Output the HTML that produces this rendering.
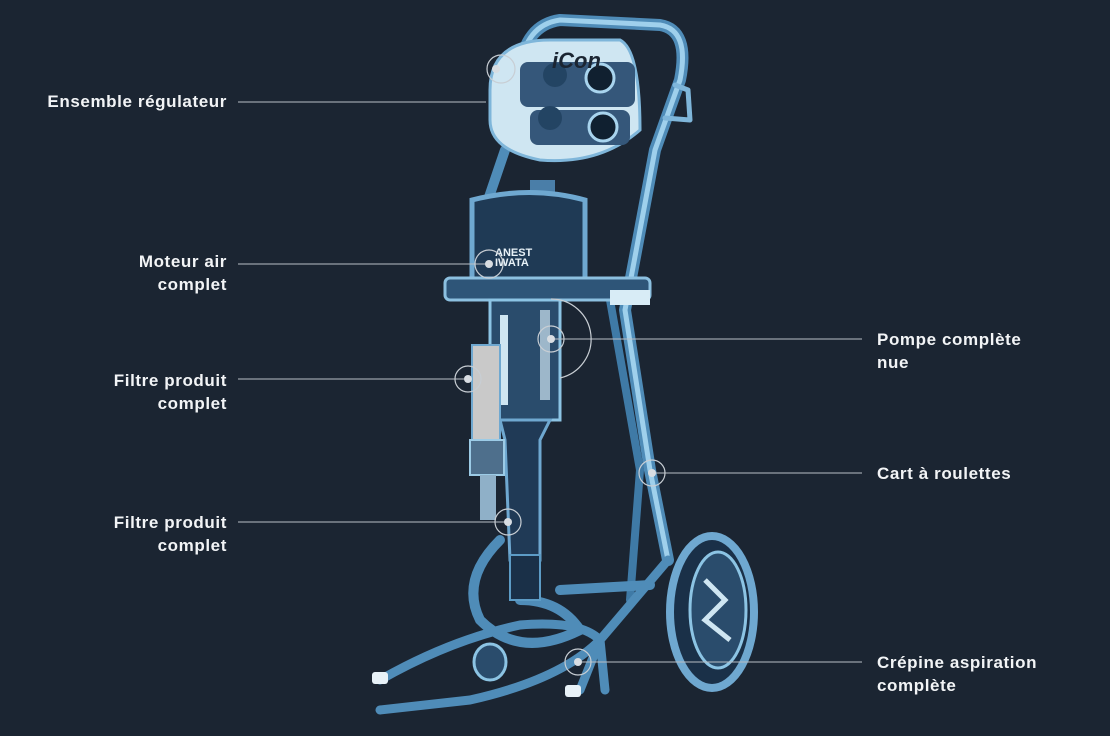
<!DOCTYPE html>
<html><head><meta charset="utf-8"><style>
html,body{margin:0;padding:0;background:#1b2532;}
.w{position:relative;width:1110px;height:736px;overflow:hidden;background:#1b2532;font-family:"Liberation Sans",sans-serif;}
.l{position:absolute;color:#f2f4f6;font-weight:bold;font-size:17px;line-height:23px;letter-spacing:0.6px;}
.r{text-align:right;}
svg{position:absolute;left:0;top:0;}
</style></head><body><div class="w">
<svg width="1110" height="736" viewBox="0 0 1110 736">
<g fill="none" stroke="#5d9cc6" stroke-linecap="round" stroke-linejoin="round">
<path d="M520 70 Q525 25 560 20 L660 25 Q690 30 680 80 L655 150 L640 230 L625 310 L650 470 L668 560" stroke-width="12" stroke="#4f8cb8"/>
<path d="M520 70 Q525 25 560 20 L660 25 Q690 30 680 80 L655 150 L640 230 L625 310 L650 470 L668 560" stroke-width="5" stroke="#9fd0ec"/>
<path d="M505 150 L488 200" stroke-width="10" stroke="#4f8cb8"/>
<path d="M675 85 L688 90 L690 120 L665 118" stroke-width="5" stroke="#7fb6da"/>
<path d="M610 300 L640 470 L630 600" stroke-width="8" stroke="#3f7aa6"/>
<path d="M560 590 L650 585" stroke-width="10" stroke="#4f8cb8"/>
<path d="M500 540 Q460 580 480 620 Q520 660 580 630 Q560 600 520 600" stroke-width="10" stroke="#4f8cb8"/>
<path d="M380 680 Q450 640 520 625 Q580 620 600 640 Q560 680 470 700 L380 710" stroke-width="9" stroke="#4f8cb8"/>
<path d="M600 640 L580 690" stroke-width="9" stroke="#4f8cb8"/>
<path d="M668 560 L600 640 L605 690" stroke-width="9" stroke="#4f8cb8"/>
</g>
<path d="M490 90 Q490 40 550 40 L620 40 Q640 50 640 130 Q600 165 540 160 Q490 150 490 120 Z" fill="#cfe6f2" stroke="#7fb6da" stroke-width="3"/>
<rect x="520" y="62" width="115" height="45" rx="8" fill="#35577a"/>
<rect x="530" y="110" width="100" height="35" rx="8" fill="#35577a"/>
<circle cx="600" cy="78" r="14" fill="#102030" stroke="#a8d4ee" stroke-width="3"/>
<circle cx="603" cy="127" r="14" fill="#102030" stroke="#a8d4ee" stroke-width="3"/>
<circle cx="555" cy="75" r="12" fill="#234463"/>
<circle cx="550" cy="118" r="12" fill="#234463"/>
<text x="552" y="68" font-family="Liberation Sans,sans-serif" font-weight="bold" font-style="italic" font-size="22" fill="#1b2532">iCon</text>
<rect x="530" y="180" width="25" height="15" fill="#4a7ea8"/>
<path d="M472 200 Q530 185 585 200 L585 285 Q530 300 472 285 Z" fill="#1f3a55" stroke="#6fa8d0" stroke-width="5"/>
<rect x="445" y="278" width="205" height="22" rx="5" fill="#2e5578" stroke="#8cc0e0" stroke-width="3"/>
<path d="M610 290 L650 290 L650 305 L610 305 Z" fill="#d8ecf6"/>
<text x="495" y="256" font-family="Liberation Sans,sans-serif" font-weight="bold" font-size="11" fill="#e8f2f8">ANEST</text>
<text x="495" y="266" font-family="Liberation Sans,sans-serif" font-weight="bold" font-size="11" fill="#e8f2f8">IWATA</text>
<rect x="490" y="300" width="70" height="120" fill="#2a4c6c" stroke="#8cc4e4" stroke-width="3"/>
<rect x="500" y="315" width="8" height="90" fill="#cfe6f2"/>
<rect x="540" y="310" width="10" height="90" fill="#cfe6f2" opacity=".7"/>
<path d="M500 420 L550 420 L540 440 L540 560 L510 560 L505 440 Z" fill="#203a56" stroke="#6fa8d0" stroke-width="3"/>
<rect x="510" y="555" width="30" height="45" fill="#1a3048" stroke="#5d9cc6" stroke-width="2"/>
<rect x="472" y="345" width="28" height="100" fill="#c9c9c9" stroke="#6fa8d0" stroke-width="2"/>
<rect x="470" y="440" width="34" height="35" fill="#4e6f8c" stroke="#9ccbe6" stroke-width="2"/>
<rect x="480" y="475" width="16" height="45" fill="#8fb0c8"/>
<ellipse cx="712" cy="612" rx="42" ry="76" fill="#1a3048" stroke="#6fa8d0" stroke-width="8"/>
<ellipse cx="718" cy="610" rx="28" ry="58" fill="#2a4c6c" stroke="#8cc4e4" stroke-width="3"/>
<path d="M705 580 L725 600 L705 620 L730 640" stroke="#cfe6f2" stroke-width="5" fill="none"/>
<ellipse cx="490" cy="662" rx="16" ry="18" fill="#2a4c6c" stroke="#8cc4e4" stroke-width="3"/>
<rect x="372" y="672" width="16" height="12" rx="3" fill="#e8f2f8"/>
<rect x="565" y="685" width="16" height="12" rx="3" fill="#e8f2f8"/>
<g stroke="#b8bec5" stroke-width="1" fill="none">
<line x1="238" y1="102" x2="486" y2="102"/>
<line x1="238" y1="264" x2="489" y2="264"/>
<line x1="238" y1="379" x2="468" y2="379"/>
<line x1="238" y1="522" x2="508" y2="522"/>
<line x1="551" y1="339" x2="862" y2="339"/>
<line x1="652" y1="473" x2="862" y2="473"/>
<line x1="578" y1="662" x2="862" y2="662"/>
</g>
<g stroke="#c8ced4" stroke-width="1.2" fill="none">
<circle cx="501" cy="69" r="14"/><circle cx="489" cy="264" r="14"/><circle cx="468" cy="379" r="13"/>
<circle cx="508" cy="522" r="13"/><circle cx="551" cy="339" r="13"/><path d="M551 299 A40 40 0 0 1 560 378"/>
<circle cx="652" cy="473" r="13"/><circle cx="578" cy="662" r="13"/>
</g>
<g fill="#d8dde2">
<circle cx="496" cy="69" r="4"/><circle cx="489" cy="264" r="4"/><circle cx="468" cy="379" r="4"/>
<circle cx="508" cy="522" r="4"/><circle cx="551" cy="339" r="4"/><circle cx="652" cy="473" r="4"/><circle cx="578" cy="662" r="4"/>
</g>
</svg>
<div class="l r" style="right:883px;top:90px;white-space:nowrap">Ensemble régulateur</div>
<div class="l r" style="right:883px;top:250px">Moteur air<br>complet</div>
<div class="l r" style="right:883px;top:369px">Filtre produit<br>complet</div>
<div class="l r" style="right:883px;top:511px">Filtre produit<br>complet</div>
<div class="l" style="left:877px;top:328px">Pompe complète<br>nue</div>
<div class="l" style="left:877px;top:462px">Cart à roulettes</div>
<div class="l" style="left:877px;top:651px">Crépine aspiration<br>complète</div>
</div></body></html>
